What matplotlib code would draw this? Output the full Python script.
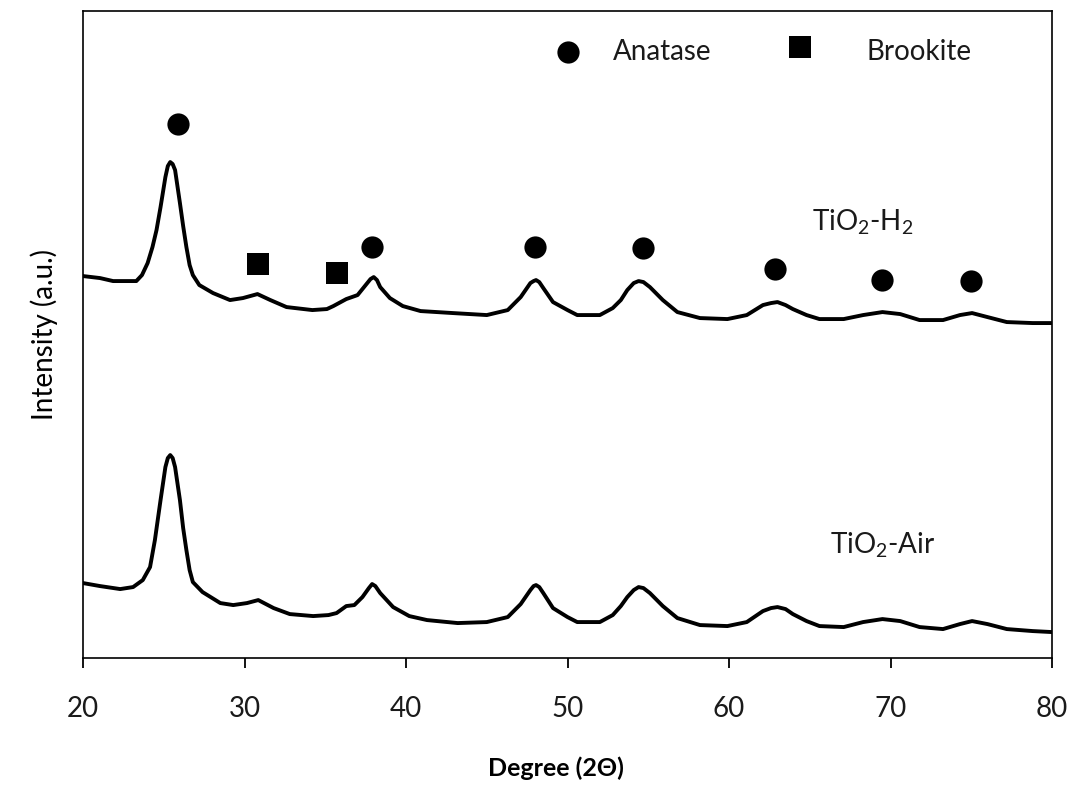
import matplotlib

matplotlib.use("Agg")
import matplotlib.pyplot as plt
import numpy as np

plt.rcParams["font.family"] = ["Lato", "DejaVu Sans"]
plt.rcParams["mathtext.fontset"] = "custom"
plt.rcParams["mathtext.rm"] = "Lato"
plt.rcParams["mathtext.it"] = "Lato"

# TiO2-H2 pattern (2theta in degrees, intensity in arbitrary units)
h2_theta = [
    20.0, 21.05, 21.86, 23.3, 23.65, 24.0, 24.3, 24.55, 24.8, 25.1, 25.25, 25.4,
    25.55, 25.7, 26.0, 26.2, 26.4, 26.6, 26.8, 27.2, 28.05, 29.1, 29.9, 30.8,
    31.6, 32.6, 34.2, 35.1, 35.5, 36.3, 37.0, 37.5, 37.8, 38.0, 38.2, 38.4,
    39.0, 39.8, 40.9, 42.9, 45.0, 46.3, 47.1, 47.7, 47.9, 48.05, 48.25, 48.5,
    49.1, 50.0, 50.6, 52.0, 52.8, 53.3, 53.7, 54.1, 54.4, 54.7, 55.1, 55.9,
    56.8, 58.2, 59.9, 61.1, 62.1, 62.6, 63.0, 63.5, 63.95, 64.8, 65.6, 67.1,
    68.3, 69.5, 70.6, 71.8, 73.25, 74.3, 75.05, 76.0, 77.2, 78.8, 80.0,
]
h2_int = [
    382, 380, 377, 377, 383, 395, 411, 428, 451, 481, 492, 496,
    494, 488, 455, 432, 411, 393, 383, 373, 365, 358, 360, 364,
    358, 351, 348, 349, 352, 359, 363, 373, 379, 381, 378, 371,
    360, 352, 347, 345, 343, 348, 361, 375, 377, 378, 376, 370,
    356, 348, 343, 343, 350, 358, 368, 375, 377, 376, 371, 358,
    346, 340, 339, 343, 353, 355, 356, 353, 349, 343, 339, 339,
    343, 346, 344, 338, 338, 343, 345, 341, 336, 335, 335,
]

# TiO2-Air pattern
air_theta = [
    20.0, 21.05, 22.3, 23.1, 23.7, 24.15, 24.45, 24.8, 25.1, 25.25, 25.4, 25.55,
    25.7, 26.0, 26.2, 26.4, 26.6, 26.8, 27.4, 28.5, 29.3, 30.15, 30.85, 31.8,
    32.8, 34.25, 35.2, 35.7, 36.3, 36.8, 37.3, 37.7, 37.9, 38.1, 38.4, 39.2,
    40.2, 41.3, 43.2, 45.0, 46.3, 47.1, 47.7, 47.9, 48.05, 48.25, 48.5, 49.1,
    50.0, 50.6, 52.0, 52.8, 53.3, 53.7, 54.1, 54.4, 54.7, 55.1, 55.9, 56.8,
    58.2, 59.9, 61.1, 62.1, 62.6, 63.0, 63.5, 63.95, 64.8, 65.6, 67.1, 68.3,
    69.5, 70.6, 71.8, 73.25, 74.3, 75.05, 76.0, 77.2, 78.8, 80.0,
]
air_int = [
    75, 72, 69, 71, 78, 91, 118, 158, 191, 200, 203, 200,
    191, 158, 130, 108, 88, 76, 66, 55, 53, 55, 58, 50,
    44, 42, 43, 45, 52, 53, 61, 70, 74, 72, 65, 51,
    42, 38, 35, 36, 41, 54, 68, 72, 73, 71, 65, 50,
    41, 36, 36, 43, 52, 61, 68, 71, 70, 65, 52, 40,
    33, 32, 36, 47, 50, 51, 49, 44, 37, 32, 31, 36,
    39, 37, 31, 29, 34, 37, 34, 29, 27, 26,
]

# phase markers
anatase_theta = [25.9, 37.9, 48.0, 54.7, 62.85, 69.5, 75.0]
anatase_int = [534, 411, 411, 410, 389, 378, 377]
brookite_theta = [30.85, 35.7]
brookite_int = [394, 385]

x_ticks = [20, 30, 40, 50, 60, 70, 80]

fig = plt.figure(figsize=(10.7, 7.9), dpi=100)
ax = fig.add_axes([0.0776, 0.167, 0.9056, 0.819])

ax.plot(h2_theta, h2_int, color="black", lw=2.8, solid_joinstyle="round")
ax.plot(air_theta, air_int, color="black", lw=2.8, solid_joinstyle="round")

ax.plot(anatase_theta, anatase_int, "o", color="black", ms=16, mew=0, ls="none")
ax.plot(brookite_theta, brookite_int, "s", color="black", ms=15.5, mew=0, ls="none")

# legend drawn by hand as in the original
ax.plot([50.0], [606], "o", color="black", ms=16, mew=0)
ax.text(52.8, 606, "Anatase", fontsize=20, va="center", ha="left", color="#1a1a1a")
ax.plot([64.4], [611], "s", color="black", ms=15.5, mew=0)
ax.text(68.5, 606, "Brookite", fontsize=20, va="center", ha="left", color="#1a1a1a")

ax.text(68.3, 436, r"TiO$_2$-H$_2$", fontsize=20, ha="center", va="center", color="#1a1a1a")
ax.text(69.5, 113, r"TiO$_2$-Air", fontsize=20, ha="center", va="center", color="#1a1a1a")

ax.set_xlim(20, 80)
ax.set_ylim(0, 647)
ax.set_xticks(x_ticks)
ax.set_yticks([])
ax.tick_params(axis="x", direction="out", length=7, width=1.3, labelsize=20,
               pad=20, labelcolor="#1a1a1a")
for s in ax.spines.values():
    s.set_linewidth(1.2)

ax.set_xlabel("Degree (2Θ)", fontsize=18, fontweight="bold")
ax.xaxis.set_label_coords(0.488, -0.152)
ax.set_ylabel("Intensity (a.u.)", fontsize=20, labelpad=18)

fig.savefig("out.png", dpi=100)
